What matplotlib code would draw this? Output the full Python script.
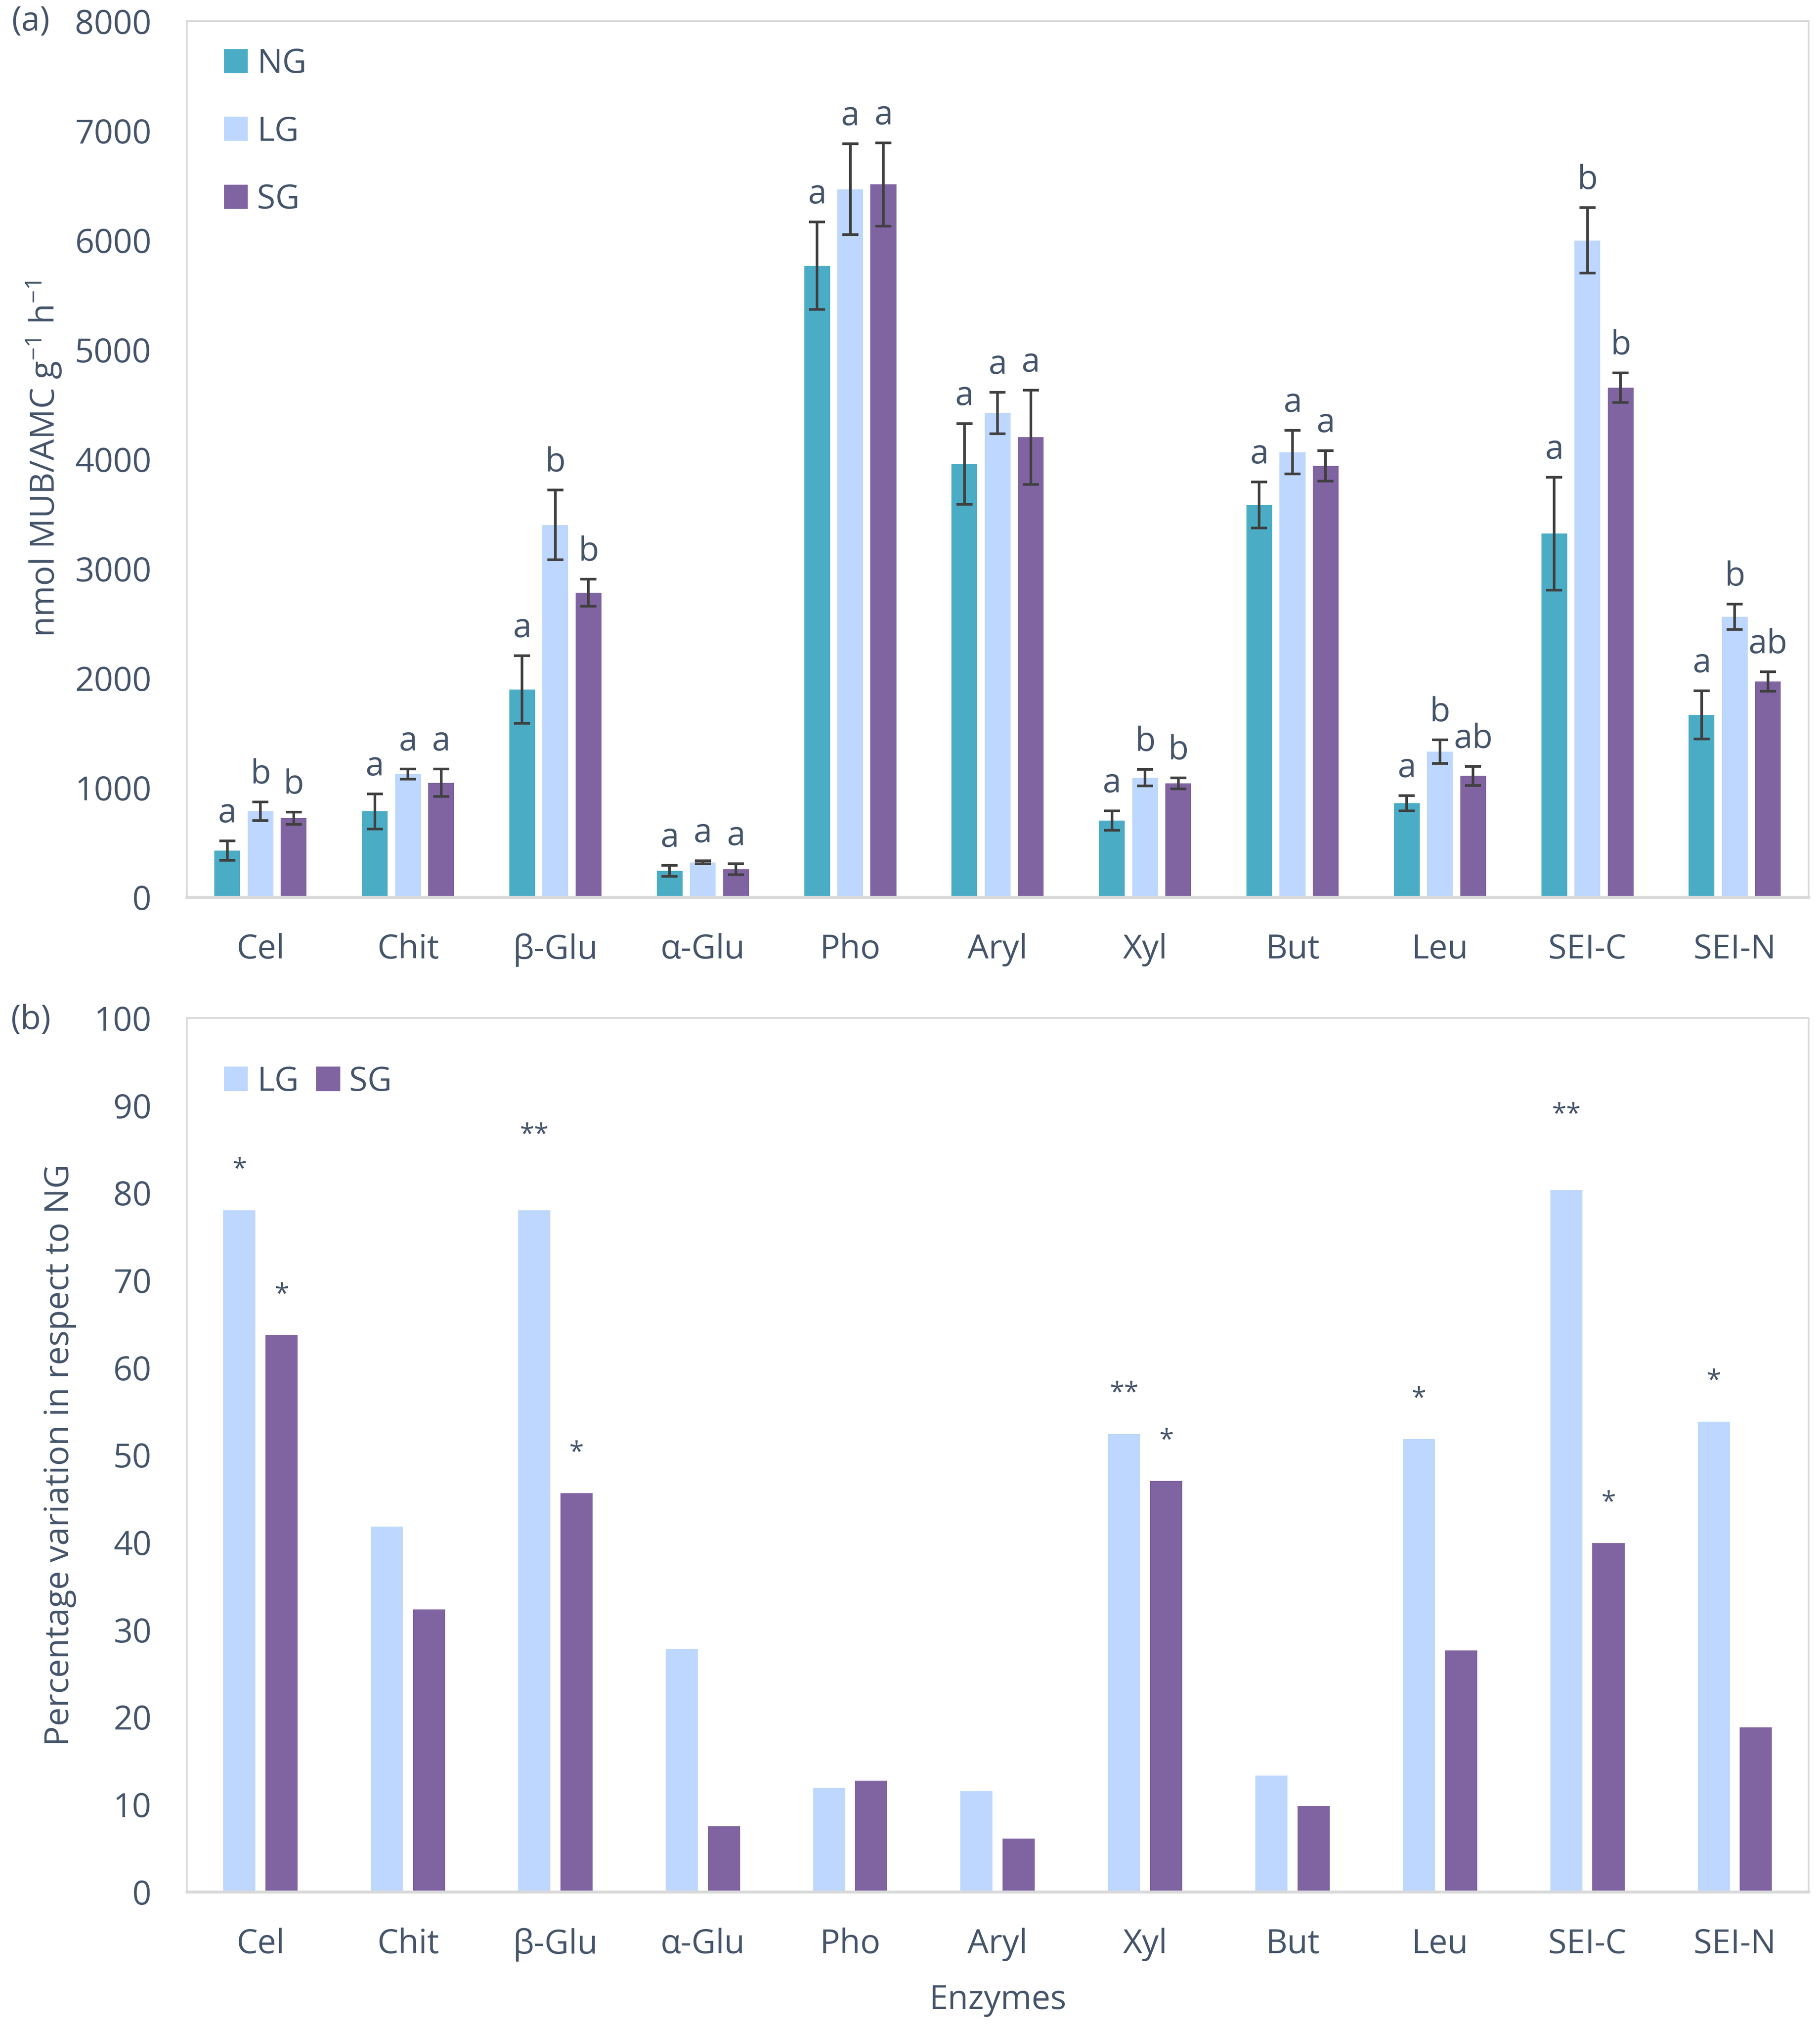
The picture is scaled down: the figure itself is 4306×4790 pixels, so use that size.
import numpy as np
import matplotlib
matplotlib.use('Agg')
import matplotlib.pyplot as plt
from matplotlib.patches import Patch

plt.rcParams['font.family'] = ['Open Sans', 'DejaVu Sans']
plt.rcParams['mathtext.fontset'] = 'custom'
plt.rcParams['mathtext.rm'] = 'Open Sans'
plt.rcParams['mathtext.default'] = 'regular'

# data
enzymes = ['Cel', 'Chit', 'β-Glu', 'α-Glu', 'Pho', 'Aryl', 'Xyl', 'But', 'Leu', 'SEI-C', 'SEI-N']

ng_mean = [425, 783, 1895, 238, 5765, 3955, 698, 3580, 857, 3319, 1662]
lg_mean = [783, 1123, 3399, 318, 6463, 4420, 1089, 4063, 1328, 5997, 2559]
sg_mean = [720, 1044, 2780, 255, 6508, 4199, 1038, 3938, 1106, 4653, 1969]

ng_err = [90, 160, 310, 50, 400, 370, 90, 210, 70, 515, 220]
lg_err = [85, 45, 320, 15, 415, 190, 75, 200, 110, 300, 115]
sg_err = [55, 125, 125, 50, 380, 430, 50, 140, 85, 135, 90]

ng_letters = ['a', 'a', 'a', 'a', 'a', 'a', 'a', 'a', 'a', 'a', 'a']
lg_letters = ['b', 'a', 'b', 'a', 'a', 'a', 'b', 'a', 'b', 'b', 'b']
sg_letters = ['b', 'a', 'b', 'a', 'a', 'a', 'b', 'a', 'ab', 'b', 'ab']

lg_pct = [78.0, 41.8, 78.0, 27.8, 11.9, 11.5, 52.4, 13.3, 51.8, 80.3, 53.8]
sg_pct = [63.7, 32.3, 45.6, 7.5, 12.7, 6.1, 47.0, 9.8, 27.6, 39.9, 18.8]

lg_stars = ['*', '', '**', '', '', '', '**', '', '*', '**', '*']
sg_stars = ['*', '', '*', '', '', '', '*', '', '', '*', '']

# colours
c_ng = '#4BACC6'
c_lg = '#BDD7FE'
c_sg = '#8064A2'
c_txt = '#44546A'
c_frame = '#D9D9D9'

fig = plt.figure(figsize=(4306 / 300, 4790 / 300), dpi=300)
ax1 = fig.add_axes([0.1026, 0.5570, 0.8911, 0.4326])
ax2 = fig.add_axes([0.1026, 0.0658, 0.8911, 0.4315])

x = np.arange(len(enzymes))


def style_axes(ax):
    for side in ['left', 'top', 'right']:
        ax.spines[side].set_color(c_frame)
        ax.spines[side].set_linewidth(1.0)
    ax.spines['bottom'].set_color(c_frame)
    ax.spines['bottom'].set_linewidth(1.7)
    ax.tick_params(axis='both', length=0, labelsize=19, colors=c_txt)
    ax.tick_params(axis='y', pad=20)
    ax.tick_params(axis='x', pad=20.5)
    ax.set_xticks(x)
    ax.set_xticklabels(enzymes)
    ax.set_xlim(-0.5, len(enzymes) - 0.5)


# (a) activities
w = 0.175
off = 0.225
err_kw = dict(ecolor='#404040', elinewidth=1.5, capsize=4.5, capthick=1.5)
for shift, vals, errs, col, lab, letters in [
        (-off, ng_mean, ng_err, c_ng, 'NG', ng_letters),
        (0.0, lg_mean, lg_err, c_lg, 'LG', lg_letters),
        (off, sg_mean, sg_err, c_sg, 'SG', sg_letters)]:
    ax1.bar(x + shift, vals, w, color=col, yerr=errs, error_kw=err_kw, label=lab, zorder=2)
    for xi, v, e, t in zip(x + shift, vals, errs, letters):
        ax1.annotate(t, (xi, v + e), xytext=(0, 6), textcoords='offset points',
                     ha='center', va='bottom', fontsize=19, color=c_txt)

ax1.set_ylim(0, 8000)
ax1.set_yticks(range(0, 8001, 1000))
style_axes(ax1)
ax1.set_ylabel('nmol MUB/AMC g$^{-1}$ h$^{-1}$', fontsize=19, color=c_txt)
ax1.yaxis.set_label_coords(-0.076, 0.5)
ax1.legend(handles=[Patch(color=c_ng), Patch(color=c_lg), Patch(color=c_sg)],
           labels=['NG', 'LG', 'SG'], loc='upper left', bbox_to_anchor=(0.0235, 0.970),
           frameon=False, fontsize=19, labelcolor=c_txt, borderpad=0, borderaxespad=0,
           handlelength=0.66, handleheight=0.66, handletextpad=0.3, labelspacing=1.03)

# (b) percentage variation
w2 = 0.218
off2 = 0.143
star_lift = {2: 4, 9: 4}
for shift, vals, col, lab, stars, is_lg in [
        (-off2, lg_pct, c_lg, 'LG', lg_stars, True),
        (off2, sg_pct, c_sg, 'SG', sg_stars, False)]:
    ax2.bar(x + shift, vals, w2, color=col, label=lab, zorder=2)
    for i, (xi, v, s) in enumerate(zip(x + shift, vals, stars)):
        if s:
            lift = star_lift.get(i, 0) if is_lg else 0
            ax2.text(xi, v + 3.1 + lift, s, ha='center', va='bottom', fontsize=15, color=c_txt)

ax2.set_ylim(0, 100)
ax2.set_yticks(range(0, 101, 10))
style_axes(ax2)
ax2.set_ylabel('Percentage variation in respect to NG', fontsize=19, color=c_txt)
ax2.yaxis.set_label_coords(-0.068, 0.5)
ax2.set_xlabel('Enzymes', fontsize=19, color=c_txt)
ax2.xaxis.set_label_coords(0.5, -0.124)
ax2.xaxis.label.set_va('center')
ax2.legend(handles=[Patch(color=c_lg), Patch(color=c_sg)], labels=['LG', 'SG'],
           loc='upper left', bbox_to_anchor=(0.0235, 0.9458), ncol=2,
           frameon=False, fontsize=19, labelcolor=c_txt, borderpad=0, borderaxespad=0,
           handlelength=0.66, handleheight=0.66, handletextpad=0.3, columnspacing=0.55)

fig.text(73 / 4306, 1 - 52 / 4790, '(a)', ha='center', va='center', fontsize=19, color=c_txt)
fig.text(73 / 4306, 1 - 2413 / 4790, '(b)', ha='center', va='center', fontsize=19, color=c_txt)

fig.savefig('out.png', dpi=300, facecolor='white')
